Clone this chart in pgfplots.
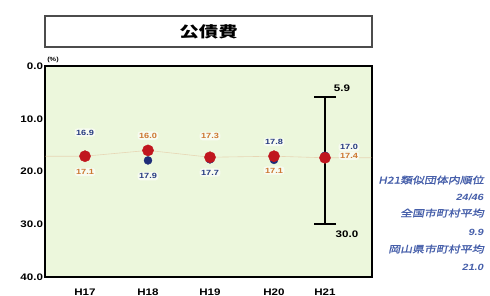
\documentclass[border=0pt]{standalone}
\usepackage{fontspec}
\setmainfont[FakeStretch=1.22]{Liberation Sans}
\newfontfamily\cjk[FakeStretch=1.3]{Noto Sans CJK JP}
\newfontfamily\cjkit[FakeSlant=0.2, FakeStretch=1.27, FakeBold=1.5]{Noto Sans CJK JP}
\usepackage{pgfplots}
\pgfplotsset{compat=1.18}
\definecolor{bgg}{RGB}{236,247,220}
\definecolor{dotred}{RGB}{192,22,30}
\definecolor{dotblue}{RGB}{30,45,120}
\definecolor{lblor}{RGB}{205,120,50}
\definecolor{lblbl}{RGB}{40,60,130}
\definecolor{sideblue}{RGB}{70,95,170}
\begin{document}
\begin{tikzpicture}[x=1pt,y=1pt]
\useasboundingbox (0,0) rectangle (490,296);
% title box
\node[draw=black!70, line width=1.4pt, minimum width=327pt, minimum height=31pt, inner sep=0pt, font=\cjk\bfseries\fontsize{15}{15}\selectfont] at (208.5,264.5) {公債費};
\begin{axis}[
  at={(45pt,19pt)}, anchor=south west,
  scale only axis, width=327pt, height=211pt,
  xmin=45, xmax=372, ymin=0, ymax=40,
  y dir=reverse,
  axis background/.style={fill=bgg},
  axis line style={line width=1.7pt, black},
  xtick={85,148,210,274,325},
  xticklabels={H17,H18,H19,H20,H21},
  ytick={0,10,20,30,40},
  y tick label style={/pgf/number format/fixed, /pgf/number format/fixed zerofill, /pgf/number format/precision=1, xshift=1.5pt},
  /pgf/number format/assume math mode=true,
  tick label style={font=\bfseries\fontsize{9.5}{10}\selectfont},
  x tick label style={yshift=-8pt},
  major tick length=0pt,
  clip=false,
]
% faint connecting line
\addplot[lblor!60, opacity=0.45, line width=0.6pt, mark=none] coordinates {(45,17.1) (85,17.1) (148,16.0) (210,17.3) (274,17.1) (325,17.4) (372,17.4)};
% range bar
\addplot[black, line width=1.5pt, mark=-, mark size=11pt, mark options={line width=2pt}] coordinates {(325,5.9) (325,30.0)};
% similar-group average (blue)
\addplot[only marks, mark=*, mark size=4pt, dotblue, mark options={draw=dotblue, fill=dotblue}] coordinates {(85,16.9) (148,17.9) (210,17.7) (274,17.8) (325,17.0)};
% own value (red)
\addplot[only marks, mark=*, mark size=5.6pt, dotred, mark options={draw=dotred, fill=dotred}] coordinates {(85,17.1) (148,16.0) (210,17.3) (274,17.1) (325,17.4)};
% value labels
\tikzset{vl/.style={font=\bfseries\fontsize{7.5}{8}\selectfont, fill=white, fill opacity=0.6, text opacity=1, inner sep=1.5pt, rounded corners=3pt}}
\node[vl, text=lblbl] at (axis cs:85,12.6) {16.9};
\node[vl, text=lblor] at (axis cs:85,20.1) {17.1};
\node[vl, text=lblor] at (axis cs:148,13.2) {16.0};
\node[vl, text=lblbl] at (axis cs:148,20.9) {17.9};
\node[vl, text=lblor] at (axis cs:210,13.3) {17.3};
\node[vl, text=lblbl] at (axis cs:210,20.2) {17.7};
\node[vl, text=lblbl] at (axis cs:274,14.4) {17.8};
\node[vl, text=lblor] at (axis cs:274,19.8) {17.1};
\node[vl, text=lblbl] at (axis cs:349,15.4) {17.0};
\node[vl, text=lblor] at (axis cs:349,17.0) {17.4};
\node[font=\bfseries\fontsize{9.5}{10}\selectfont] at (axis cs:342,4.2) {5.9};
\node[font=\bfseries\fontsize{9.5}{10}\selectfont] at (axis cs:347,31.8) {30.0};
\node[font=\bfseries\fontsize{6}{6}\selectfont] at (axis cs:53,-1.2) {(\%)};
\end{axis}
% side notes
\begin{scope}[every node/.style={anchor=east, text=sideblue, inner sep=0pt}]
\node[font=\cjkit\fontsize{9.4}{9.4}\selectfont] at (484,116) {H21類似団体内順位};
\node[font=\bfseries\itshape\fontsize{9}{9}\selectfont] at (484,99) {24/46};
\node[font=\cjkit\fontsize{9.4}{9.4}\selectfont] at (484,83) {全国市町村平均};
\node[font=\bfseries\itshape\fontsize{9}{9}\selectfont] at (484,64) {9.9};
\node[font=\cjkit\fontsize{9.4}{9.4}\selectfont] at (484,47) {岡山県市町村平均};
\node[font=\bfseries\itshape\fontsize{9}{9}\selectfont] at (484,29) {21.0};
\end{scope}
\end{tikzpicture}
\end{document}
